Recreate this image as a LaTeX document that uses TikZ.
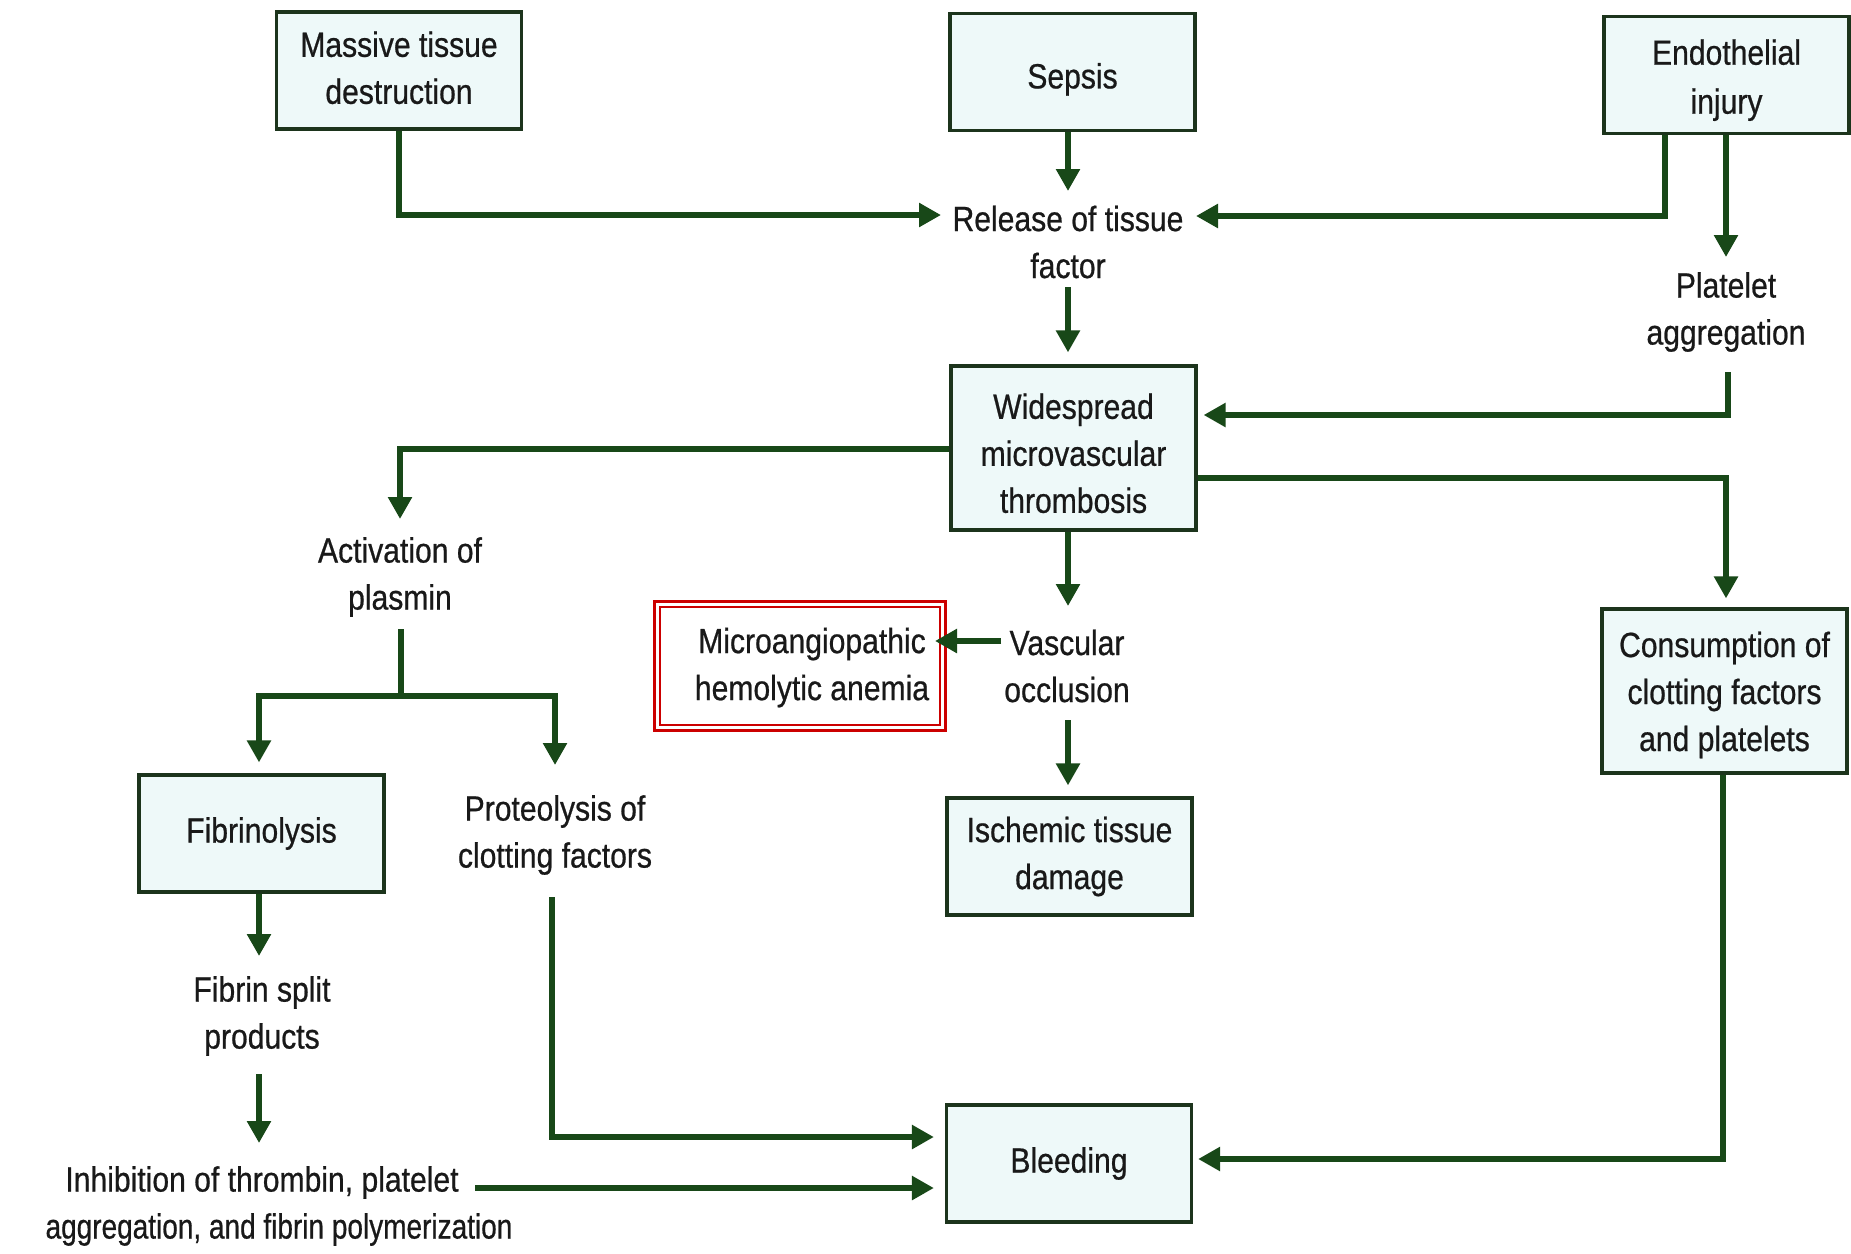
\documentclass[tikz,border=0pt]{standalone}
\usepackage{fontspec}
\setmainfont{Liberation Sans}[FakeStretch=0.86,FakeBold=0.6]
\usetikzlibrary{arrows.meta,calc}
\definecolor{arrgreen}{RGB}{24,72,24}
\definecolor{boxline}{RGB}{28,52,28}
\definecolor{boxfill}{RGB}{238,249,249}
\definecolor{txt}{RGB}{25,25,25}
\definecolor{redline}{RGB}{204,0,0}
\newcommand{\shtxt}[2]{\raisebox{-#1}[\height][\depth]{\begin{tabular}{@{}c@{}}#2\end{tabular}}}
\begin{document}
\begin{tikzpicture}[x=0.5pt,y=-0.5pt,
  every node/.style={font=\fontsize{17.5}{23.5}\selectfont, text=txt, align=center},
  box/.style={draw=boxline, fill=boxfill, line width=1.6pt, minimum width=122.5pt, minimum height=58.5pt, inner sep=2pt},
  tallbox/.style={box, minimum height=82pt},
  plain/.style={inner sep=0pt},
  redbox/.style={draw=redline, double=white, line width=1.3pt, double distance=1.4pt, minimum width=142.7pt, minimum height=61.7pt},
  arr/.style={draw=arrgreen, line width=3pt, -{Triangle[length=11pt,width=11.5pt]}},
  ln/.style={draw=arrgreen, line width=3pt}
]
\useasboundingbox[fill=white] (0,0) rectangle (1851,1253);

% boxes
\node[box] (mtd) at (399,70.5) {\shtxt{0.2pt}{Massive tissue\\destruction}};
\node[box] (sepsis) at (1072.5,72) {\shtxt{3.5pt}{Sepsis}};
\node[box] (endo) at (1726.5,75) {\shtxt{2.4pt}{Endothelial\\[1pt]injury}};
\node[tallbox] (wide) at (1073.5,448) {\shtxt{4.2pt}{Widespread\\microvascular\\thrombosis}};
\node[redbox] (micro) at (800,666) {\shtxt{0.6pt}{\hspace*{12pt}Microangiopathic\\\hspace*{12pt}hemolytic anemia}};
\node[tallbox] (cons) at (1724.5,691) {\shtxt{1.8pt}{Consumption of\\clotting factors\\and platelets}};
\node[box] (fibr) at (261.5,833.5) {Fibrinolysis};
\node[box] (isch) at (1069.5,856.5) {Ischemic tissue\\damage};
\node[box] (bleed) at (1069,1163.5) {Bleeding};

% plain text nodes
\node[plain] (rel) at (1068,242) {Release of tissue\\factor};
\node[plain] (plat) at (1726,312) {Platelet\\aggregation};
\node[plain] (act) at (400,577) {Activation of\\plasmin};
\node[plain] (vasc) at (1067,666) {Vascular\\occlusion};
\node[plain] (prot) at (555,835) {Proteolysis of\\clotting factors};
\node[plain] (split) at (262,1016) {Fibrin split\\products};
\node[plain] (inh) at (279,1206) {Inhibition of thrombin, platelet\hspace*{17pt}\\\scalebox{0.93}[1]{aggregation, and fibrin polymerization}};

% connectors
\draw[arr] (mtd.south) |- ($(rel.center)+(-127,-27)$);
\draw[arr] (sepsis.south -| rel.center) -- ($(rel.center)+(0,-51)$);
\draw[arr] ($(endo.south)+(-61.5,0)$) |- ($(rel.center)+(128,-26)$);
\draw[arr] (endo.south -| plat.center) -- ($(plat.center)+(0,-55)$);
\draw[arr] ($(rel.center)+(0,45)$) -- ($(rel.center |- wide.north)+(0,-12)$);
\draw[arr] ($(plat.center)+(2,60)$) |- ($(wide.east)+(6,-33)$);
\draw[arr] ($(wide.west)+(0,1)$) -| ($(act.center)+(0,-58)$);
\draw[arr] ($(wide.east)+(0,30)$) -| ($(cons.north)+(1.5,-9)$);
\draw[arr] (wide.south -| rel.center) -- ($(rel.center |- vasc.center)+(0,-60)$);
\draw[arr] ($(vasc.center)+(-66,-25)$) -- ($(micro.east)+(-9,-25)$);
\draw[arr] ($(rel.center |- vasc.center)+(0,54)$) -- ($(rel.center |- isch.north)+(0,-11)$);

\coordinate (sp) at ($(act.center)+(1,119)$);
\draw[ln] ($(act.center)+(1,52)$) -- (sp);
\draw[arr] (sp) -| ($(fibr.north)+(-2.5,-11)$);
\draw[arr] (sp) -| ($(prot.center)+(0,-70)$);

\draw[arr] ($(fibr.south)+(-2.5,0)$) -- ($(split.center)+(-3,-60)$);
\draw[arr] ($(split.center)+(-3,58)$) -- ($(split.center)+(-3,127)$);
\draw[arr] ($(prot.center)+(-3,62)$) |- ($(bleed.west)+(-11,-26.5)$);
\draw[arr] ($(inh.center)+(196,-18)$) -- ($(bleed.west)+(-11,24.5)$);
\draw[arr] ($(cons.south)+(-1.5,0)$) |- ($(bleed.east)+(5,-4.5)$);
\end{tikzpicture}
\end{document}
